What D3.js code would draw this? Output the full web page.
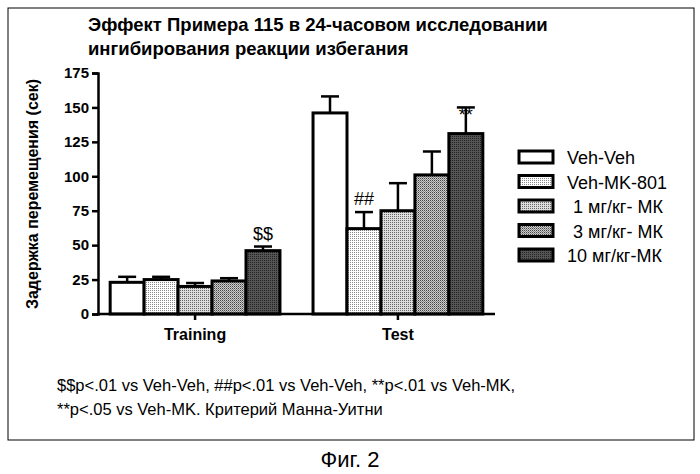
<!DOCTYPE html><html><head><meta charset="utf-8"><script src="https://cdn.jsdelivr.net/npm/d3@7"></script>
<style>body{margin:0;background:#fff}text{font-family:"Liberation Sans",Arial,sans-serif}</style></head><body><svg id="c" width="700" height="474"></svg>
<script>
const groups=["Training","Test"];
const series=["Veh-Veh","Veh-MK-801","1 мг/кг- МК","3 мг/кг- МК","10 мг/кг-МК"];
const means=[[23,25,20,24,46],[146,62,75,101,131]];
const errs=[[4,2,2.5,2,3],[12,12,20,17,19]];
const marks=[["","","","","$$"],["","##","","","**"]];
const yTicks=[0,25,50,75,100,125,150,175];
const svg=d3.select("#c");
const defs=svg.append("defs");
const pats=[null,{bg:"#fff",dot:"#888"},{bg:"#ddd",dot:"#666"},{bg:"#ccc",dot:"#444",diag:true},{bg:"#555",dot:"#222"}];
pats.forEach((p,i)=>{if(!p)return;const pt=defs.append("pattern").attr("id","p"+i).attr("width",2).attr("height",2).attr("patternUnits","userSpaceOnUse");
pt.append("rect").attr("width",2).attr("height",2).attr("fill",p.bg);
pt.append("rect").attr("width",1).attr("height",1).attr("fill",p.dot);
if(p.diag)pt.append("rect").attr("x",1).attr("y",1).attr("width",1).attr("height",1).attr("fill","#888");});
const fill=i=>i==0?"#fff":`url(#p${i})`;
svg.append("rect").attr("x",8).attr("y",8).attr("width",686).attr("height",432).attr("fill","none").attr("stroke","#000");
const y=d3.scaleLinear().domain([0,175]).range([314,73]);
const x0=d3.scaleBand().domain(groups).range([98,495]).paddingInner(0.163).paddingOuter(0.06);
const x1=d3.scaleBand().domain(series).range([0,x0.bandwidth()]);
const g=svg.append("g");
g.append("g").attr("transform","translate(98,0)").call(d3.axisLeft(y).tickValues(yTicks).tickSize(6)).call(a=>{a.selectAll("text").attr("font-size",15).attr("font-weight","bold").attr("fill","#000").attr("font-family","'Liberation Sans',Arial,sans-serif");a.selectAll("line,path").attr("stroke-width",2.5)});
groups.forEach((gr,gi)=>{series.forEach((s,si)=>{const bx=x0(gr)+x1(s),w=x1.bandwidth(),cx=bx+w/2;
g.append("rect").attr("x",bx).attr("y",y(means[gi][si])).attr("width",w).attr("height",y(0)-y(means[gi][si])).attr("fill",fill(si)).attr("stroke","#000").attr("stroke-width",3);
const top=y(means[gi][si]+errs[gi][si]);
g.append("line").attr("x1",cx).attr("x2",cx).attr("y1",y(means[gi][si])).attr("y2",top).attr("stroke","#000").attr("stroke-width",2.5);
g.append("line").attr("x1",cx-9).attr("x2",cx+9).attr("y1",top).attr("y2",top).attr("stroke","#000").attr("stroke-width",2.5);
if(marks[gi][si])g.append("text").attr("x",cx).attr("y",top-(si==4&&gi==1?-14:7)).attr("text-anchor","middle").attr("font-size",18).text(marks[gi][si]);});
const c=x0(gr)+x0.bandwidth()/2;
g.append("line").attr("x1",c).attr("x2",c).attr("y1",314).attr("y2",320).attr("stroke","#000").attr("stroke-width",2.5);
g.append("text").attr("x",c).attr("y",340).attr("text-anchor","middle").attr("font-size",16).attr("font-weight","bold").text(gr);});
g.append("line").attr("x1",97).attr("x2",495).attr("y1",314).attr("y2",314).attr("stroke","#000").attr("stroke-width",2.5);
svg.append("text").attr("transform","translate(38,194) rotate(-90)").attr("text-anchor","middle").attr("font-size",16).attr("font-weight","bold").text("Задержка перемещения (сек)");
svg.append("text").attr("x",88).attr("y",31).attr("font-size",18.5).attr("font-weight","bold").text("Эффект Примера 115 в 24-часовом исследовании");
svg.append("text").attr("x",88).attr("y",55).attr("font-size",18.5).attr("font-weight","bold").text("ингибирования реакции избегания");
series.forEach((s,i)=>{const ly=157+i*24.5;
svg.append("rect").attr("x",519).attr("y",ly-6).attr("width",34).attr("height",12).attr("fill",fill(i)).attr("stroke","#000").attr("stroke-width",3);
svg.append("text").attr("x",i>=2&&i<4?573:567).attr("y",ly+7).attr("font-size",18).text(s);});
svg.append("text").attr("x",57).attr("y",391).attr("font-size",16.5).text("$$p<.01 vs Veh-Veh, ##p<.01 vs Veh-Veh, **p<.01 vs Veh-MK,");
svg.append("text").attr("x",57).attr("y",415).attr("font-size",16.5).text("**p<.05 vs Veh-MK. Критерий Манна-Уитни");
svg.append("text").attr("x",350).attr("y",467).attr("text-anchor","middle").attr("font-size",22).text("Фиг. 2");
</script></body></html>
